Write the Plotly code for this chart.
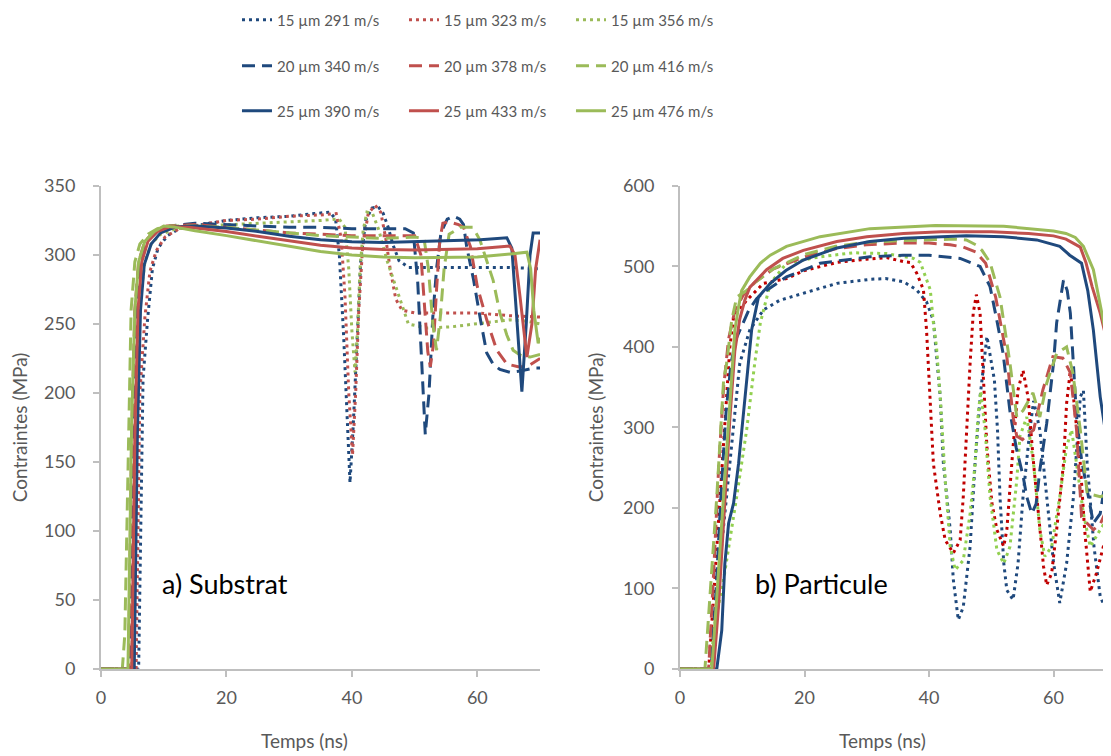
import plotly.graph_objects as go

# Values: time (ns) and stress (MPa)

# ---- a) Substrat ----
a_t_15_291 = [0, 6.0, 6.7, 7.4, 8.2, 9.1, 10.6, 12.5, 16, 20, 25, 30, 34, 36.5, 37.4, 38.0, 38.7, 39.3, 39.7, 40.2, 40.8, 41.4, 42.2, 43.2, 44.2, 45.0, 45.8, 46.5, 47.5, 49, 55, 60, 65, 70]
a_s_15_291 = [0, 0, 210, 252, 290, 305, 314, 319, 322, 325, 327, 328, 330, 331, 326, 300, 240, 180, 135, 175, 240, 295, 325, 334, 335, 330, 320, 308, 296, 291, 291, 291, 291, 290]

a_t_15_323 = [0, 5.6, 6.2, 7.0, 7.8, 8.8, 10.2, 12.5, 16, 20, 25, 30, 35, 37.5, 38.3, 38.9, 39.5, 40.1, 40.6, 41.1, 41.7, 42.6, 43.7, 44.6, 45.4, 46.1, 47.0, 48.0, 50, 55, 60, 65, 70]
a_s_15_323 = [0, 0, 200, 255, 288, 303, 313, 319, 322, 325, 326, 328, 329, 330, 312, 270, 200, 155, 200, 260, 305, 330, 336, 331, 312, 290, 268, 260, 258, 258, 258, 256, 255]

a_t_15_356 = [0, 4.9, 5.5, 6.2, 7.0, 8.0, 9.5, 12, 16, 20, 25, 30, 35, 38.0, 38.9, 39.5, 40.0, 40.5, 40.9, 41.3, 41.8, 42.4, 43.3, 44.3, 45.6, 47.2, 49.0, 52, 56, 61.5, 65.2, 68, 70]
a_s_15_356 = [0, 0, 190, 265, 295, 308, 315, 319, 321, 322, 323, 324, 325, 326, 320, 290, 245, 215, 245, 290, 318, 331, 330, 318, 296, 275, 250, 247, 248, 251, 253, 252, 250]

a_t_20_340 = [0, 4.7, 5.2, 5.7, 6.3, 7.3, 9.0, 11, 15, 20, 25, 30, 35, 40, 45, 48.5, 49.8, 50.5, 51.1, 51.7, 52.3, 52.9, 53.5, 54.2, 55.2, 56.2, 57.2, 57.8, 58.3, 59.4, 60.5, 61.5, 62.5, 63.6, 65.2, 67, 68.9, 70]
a_s_20_340 = [0, 0, 170, 260, 295, 310, 317, 321, 323, 322, 321, 320, 320, 319, 319, 319, 316, 280, 225, 170, 200, 255, 290, 316, 326, 328, 326, 322, 306, 282, 253, 229, 221, 217, 215, 216, 218, 218]

a_t_20_378 = [0, 4.4, 4.9, 5.4, 6.0, 7.0, 8.5, 10.5, 15, 20, 25, 30, 35, 40, 45, 50, 51.0, 51.6, 52.1, 52.5, 53.0, 53.5, 54.0, 54.5, 55.5, 57.0, 57.8, 58.9, 60.0, 61.5, 63.1, 64.7, 66.5, 67.9, 69, 70]
a_s_20_378 = [0, 0, 170, 260, 295, 310, 317, 321, 322, 320, 318, 316, 315, 314, 314, 314, 300, 260, 230, 219, 235, 275, 310, 323, 324, 322, 320, 306, 277, 253, 231, 221, 219, 219, 222, 225]

a_t_20_416 = [0, 3.4, 3.8, 4.3, 4.8, 5.4, 6.2, 7.5, 9.0, 11, 15, 20, 25, 30, 35, 40, 45, 50, 51.5, 52.2, 52.9, 53.5, 54.1, 54.7, 55.5, 57.3, 59.3, 60.4, 61.5, 62.5, 63.6, 64.7, 65.7, 67, 68.4, 70]
a_s_20_416 = [0, 0, 25, 150, 260, 295, 308, 315, 319, 321, 321, 320, 318, 316, 314, 313, 312, 313, 312, 290, 250, 231, 255, 290, 315, 320, 320, 311, 296, 282, 258, 242, 231, 227, 226, 228]

a_t_25_390 = [0, 5.3, 5.8, 6.3, 6.9, 8.0, 9.5, 12, 15, 20, 25, 30, 35, 40, 45, 50, 55, 60.5, 64.7, 65.5, 66.2, 67.1, 67.8, 68.4, 68.9, 70]
a_s_25_390 = [0, 0, 170, 260, 293, 308, 316, 320.5, 321, 319.5, 317, 313.5, 311, 309.5, 309, 309.5, 310, 311, 312.5, 305, 260, 201, 250, 300, 316, 316]

a_t_25_433 = [0, 4.9, 5.4, 5.9, 6.5, 7.5, 9.0, 11, 14, 20, 25, 30, 35, 40, 45, 50, 55, 60, 65.2, 66.0, 66.8, 67.9, 68.7, 69.3, 70]
a_s_25_433 = [0, 0, 170, 260, 295, 310, 317, 320.5, 320, 317, 313.5, 310, 307, 305, 304, 303.6, 304, 304.5, 306.5, 300, 270, 226, 250, 290, 311]

a_t_25_476 = [0, 4.3, 4.9, 5.4, 6.0, 7.0, 8.5, 10, 12, 15, 20, 25, 30, 35, 40, 45, 50, 55, 60, 66, 67.9, 68.5, 69.0, 69.7, 70]
a_s_25_476 = [0, 0, 180, 260, 295, 310, 317, 321, 320, 317.5, 314, 310, 306, 302.5, 300, 298.5, 298, 298, 298.5, 301, 302, 290, 260, 236, 240]

# ---- b) Particule ----
b_t_15_291 = [0, 5.1, 6.4, 8.0, 9.6, 11.2, 13.4, 16, 19.8, 25.2, 30.5, 33, 35.9, 38, 39.6, 40.7, 41.8, 42.3, 43.4, 43.9, 44.7, 45.5, 46.6, 47.4, 48.2, 49.3, 50.5, 51.0, 51.4, 52.0, 52.5, 53.5, 54.3, 55.1, 56.2, 56.8, 57.8, 58.9, 60.0, 61.0, 62.1, 63.2, 64.3, 64.8, 65.4, 66.5, 67.5, 68.8, 70]
b_s_15_291 = [0, 0, 131, 255, 380, 421, 446, 458, 467, 479, 484, 485, 481, 471, 456, 433, 338, 256, 173, 111, 61, 77, 152, 256, 338, 413, 359, 297, 214, 132, 98, 86, 131, 214, 297, 333, 297, 214, 132, 82, 131, 214, 338, 346, 256, 152, 90, 67, 70]

b_t_15_323 = [0, 4.6, 5.4, 7.0, 8.0, 8.6, 10.7, 13.4, 17.1, 20, 25.2, 30, 33.2, 35.9, 37, 38, 39.1, 39.6, 40.2, 40.7, 41.8, 42.6, 43.9, 45, 45.5, 46, 46.6, 47.1, 47.6, 48.2, 48.7, 49.3, 50.1, 50.9, 52, 52.5, 53.5, 54.3, 55.1, 55.9, 56.8, 57.8, 58.4, 58.9, 59.7, 60.5, 61.6, 62.1, 62.7, 63.2, 64.3, 65, 65.9, 66.9, 68, 69.2, 70]
b_s_15_323 = [0, 0, 90, 276, 400, 437, 458, 479, 485, 495, 505, 509, 511, 506, 505, 492, 471, 421, 338, 255, 193, 160, 144, 160, 214, 297, 380, 442, 465, 442, 359, 276, 206, 173, 152, 173, 276, 347, 371, 338, 255, 173, 127, 104, 119, 173, 255, 330, 371, 338, 255, 173, 96, 119, 152, 181, 200]

b_t_15_356 = [0, 5.0, 5.4, 7.0, 9.1, 10.7, 12.0, 12.9, 14.5, 17.1, 22.5, 27.8, 33.2, 37.5, 38.6, 39.6, 40.2, 40.7, 41.2, 41.8, 42.6, 43.4, 44.2, 45.5, 46.6, 47.4, 47.9, 48.3, 49, 49.8, 50.9, 52, 53, 54.1, 54.6, 55.7, 56.8, 57.8, 58.6, 59.7, 61, 62.1, 62.9, 63.7, 64.8, 65.9, 67.5, 69.2, 70]
b_s_15_356 = [0, 0, 48, 111, 214, 297, 380, 430, 479, 504, 512, 517, 516, 510, 505, 483, 471, 430, 400, 338, 235, 152, 123, 135, 193, 255, 317, 345, 297, 214, 148, 131, 152, 235, 289, 313, 255, 173, 140, 152, 214, 276, 297, 255, 193, 152, 173, 193, 200]

b_t_20_340 = [0, 5.0, 5.8, 6.6, 7.4, 8.2, 9.0, 9.9, 11, 12.3, 13.3, 17.1, 22.5, 30.5, 35.8, 40, 45, 48.2, 49.8, 50.9, 51.9, 53, 54, 55.1, 55.7, 56.5, 57.2, 57.8, 58.9, 60, 60.5, 61.6, 62.2, 62.7, 63.2, 63.7, 64.5, 65.4, 66.4, 67.5, 68.5, 69.2, 70]
b_s_20_340 = [0, 0, 100, 220, 320, 380, 410, 425, 445, 460, 467, 487, 504, 512, 514, 514, 510, 500, 475, 433, 392, 320, 275, 240, 214, 193, 205, 247, 305, 380, 430, 483, 470, 442, 380, 313, 260, 222, 181, 193, 239, 276, 300]

b_t_20_378 = [0, 4.6, 5.4, 6.2, 7.0, 7.8, 8.8, 10.2, 12, 15, 20, 25, 30, 35.3, 40, 43.4, 45.5, 47.5, 49.1, 50.7, 52.5, 53.5, 54.1, 55, 56, 56.8, 58.3, 59.9, 61.5, 62.7, 63.7, 64.5, 65.4, 66.4, 67.5, 68.5, 69.2, 70]
b_s_20_378 = [0, 0, 120, 250, 350, 410, 445, 465, 480, 497, 512, 522, 527, 529, 529, 527, 524, 518, 504, 462, 388, 313, 289, 285, 292, 297, 347, 388, 386, 368, 297, 189, 181, 173, 180, 197, 230, 250]

b_t_20_416 = [0, 4.0, 4.8, 5.9, 7.0, 7.5, 8.3, 9.1, 10.7, 12, 15, 20, 25, 30, 35, 40, 44, 46, 47.5, 48.5, 49.8, 51.4, 53, 54.1, 55.1, 56.7, 57.8, 58.9, 60.5, 62.1, 63.1, 64.3, 65.4, 67.5, 69.2, 70]
b_s_20_416 = [0, 0, 90, 214, 359, 380, 433, 462, 470, 480, 497, 515, 525, 530, 532, 533, 534, 533, 527, 520, 505, 462, 380, 313, 321, 343, 313, 355, 392, 400, 368, 297, 218, 214, 218, 220]

b_t_25_390 = [0, 5.9, 6.7, 7.2, 7.8, 8.6, 9.4, 10.2, 11.0, 11.5, 12.6, 14.5, 17, 19.8, 25.2, 30.5, 36, 41.3, 46, 51.9, 57.3, 61, 62.6, 64.5, 65.5, 66.4, 67.5, 69.1, 70]
b_s_25_390 = [0, 0, 48, 131, 181, 206, 255, 318, 380, 421, 462, 479, 495, 508, 523, 531, 535, 537, 538, 537, 533, 525, 514, 504, 470, 421, 338, 256, 220]

b_t_25_433 = [0, 5.4, 6.2, 7.1, 8.0, 8.8, 9.6, 10.4, 11.2, 13.9, 16.5, 19.8, 25.2, 30, 35.9, 42, 50, 56, 60, 62, 63.5, 64.3, 65.2, 66.2, 67.5, 68.5, 69.2, 70]
b_s_25_433 = [0, 0, 80, 200, 310, 395, 435, 458, 474, 496, 510, 520, 531, 537, 541, 543, 543, 541, 538, 534, 528, 524, 505, 475, 442, 410, 392, 380]

b_t_25_476 = [0, 5.1, 5.9, 7.0, 8.0, 8.8, 9.4, 9.9, 11.2, 12.9, 14.5, 17.1, 22.5, 30.5, 41, 52, 60, 62, 63.5, 64.8, 66.4, 68, 69.2, 70]
b_s_25_476 = [0, 0, 90, 214, 338, 421, 450, 470, 487, 504, 514, 525, 537, 547, 551, 550, 544, 541, 536, 525, 496, 434, 385, 350]

labels = ["15 µm 291 m/s", "15 µm 323 m/s", "15 µm 356 m/s",
          "20 µm 340 m/s", "20 µm 378 m/s", "20 µm 416 m/s",
          "25 µm 390 m/s", "25 µm 433 m/s", "25 µm 476 m/s"]

BLUE = "#1F497D"
RED = "#C0504D"
GREEN = "#9BBB59"
DOT = "3px,4px"
DASH = "13px,7px"
FONT = "Lato, 'Open Sans', sans-serif"
AXIS_GREY = "#BFBFBF"
TEXT_GREY = "#595959"

panel_a = [(a_t_15_291, a_s_15_291), (a_t_15_323, a_s_15_323), (a_t_15_356, a_s_15_356),
           (a_t_20_340, a_s_20_340), (a_t_20_378, a_s_20_378), (a_t_20_416, a_s_20_416),
           (a_t_25_390, a_s_25_390), (a_t_25_433, a_s_25_433), (a_t_25_476, a_s_25_476)]
panel_b = [(b_t_15_291, b_s_15_291), (b_t_15_323, b_s_15_323), (b_t_15_356, b_s_15_356),
           (b_t_20_340, b_s_20_340), (b_t_20_378, b_s_20_378), (b_t_20_416, b_s_20_416),
           (b_t_25_390, b_s_25_390), (b_t_25_433, b_s_25_433), (b_t_25_476, b_s_25_476)]

colors_a = [BLUE, RED, GREEN] * 3
# the dotted curves of panel b use brighter red / green
colors_b = [BLUE, "#C00000", "#92D050"] + [BLUE, RED, GREEN] * 2
dashes = [DOT] * 3 + [DASH] * 3 + ["solid"] * 3
legend_ids = ["legend"] * 3 + ["legend2"] * 3 + ["legend3"] * 3

fig = go.Figure()

for i, (t, s) in enumerate(panel_a):
    fig.add_trace(go.Scatter(
        x=t, y=s, mode="lines", name=labels[i],
        line=dict(color=colors_a[i], width=3, dash=dashes[i]),
        legend=legend_ids[i], xaxis="x", yaxis="y"))

for i, (t, s) in enumerate(panel_b):
    fig.add_trace(go.Scatter(
        x=t, y=s, mode="lines", name=labels[i], showlegend=False,
        line=dict(color=colors_b[i], width=3, dash=dashes[i]),
        xaxis="x2", yaxis="y2"))

axis_style = dict(
    showline=True, linecolor=AXIS_GREY, linewidth=2,
    ticks="outside", ticklen=6, tickwidth=1.5, tickcolor=AXIS_GREY,
    showgrid=False, zeroline=False, layer="below traces", automargin=False,
    tickfont=dict(size=18, color=TEXT_GREY),
)
title_font = dict(size=19, color=TEXT_GREY)
# the page body has an 8px margin, so the paper is offset by 8px in the window
y_dom = [0.1257, 0.7646]

fig.update_layout(
    width=1111, height=756,
    margin=dict(l=0, r=0, t=0, b=0, autoexpand=False),
    paper_bgcolor="white", plot_bgcolor="white",
    font=dict(family=FONT, color=TEXT_GREY),
    xaxis=dict(domain=[0.0837, 0.4789], range=[0, 70], dtick=20, anchor="y",
               ticklabelstandoff=5, **axis_style),
    yaxis=dict(domain=y_dom, range=[0, 350], dtick=50, anchor="x",
               ticklabelstandoff=14,
               title=dict(text="Contraintes (MPa)", font=title_font, standoff=14), **axis_style),
    xaxis2=dict(domain=[0.6049, 0.9971], range=[0, 70], dtick=20, anchor="y2",
                ticklabelstandoff=5, **axis_style),
    yaxis2=dict(domain=y_dom, range=[0, 600], dtick=100, anchor="x2",
                ticklabelstandoff=14,
                title=dict(text="Contraintes (MPa)", font=title_font, standoff=14), **axis_style),
    annotations=[
        dict(text="a) Substrat", x=9.4, y=61.6, xref="x", yref="y",
             xanchor="left", yanchor="middle", showarrow=False,
             font=dict(size=27, color="black")),
        dict(text="b) Particule", x=11.7, y=105.6, xref="x2", yref="y2",
             xanchor="left", yanchor="middle", showarrow=False,
             font=dict(size=27, color="black")),
        # x-axis titles, sitting a little left of the plot centres as in the original
        dict(text="Temps (ns)", x=0.2673, y=0.0317, xref="paper", yref="paper",
             xanchor="center", yanchor="middle", showarrow=False, font=title_font),
        dict(text="Temps (ns)", x=0.7867, y=0.0317, xref="paper", yref="paper",
             xanchor="center", yanchor="middle", showarrow=False, font=title_font),
    ],
)

# three legend rows, one per particle size
for key, row_y in [("legend", 12), ("legend2", 58), ("legend3", 103)]:
    fig.update_layout({key: dict(
        orientation="h", x=0.2061, xanchor="left",
        y=1 - row_y / 756, yanchor="middle",
        entrywidth=122, entrywidthmode="pixels",
        font=dict(size=15, color=TEXT_GREY),
        bgcolor="rgba(0,0,0,0)", borderwidth=0,
    )})

fig.write_html("out.html")
